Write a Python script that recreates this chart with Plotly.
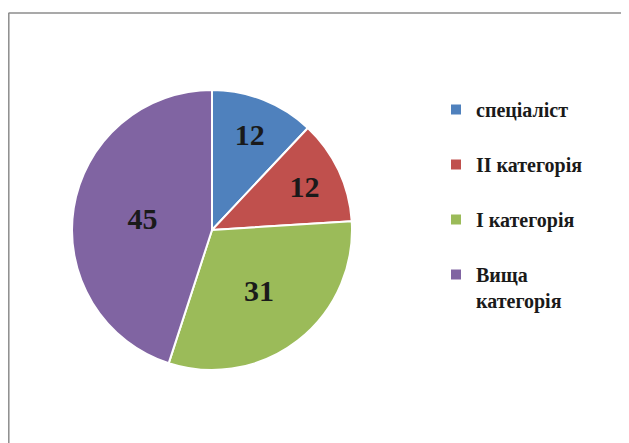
import plotly.graph_objects as go

categories = ["спеціаліст", "ІІ категорія", "І категорія", "Вища категорія"]
values = [12, 12, 31, 45]
colors = ["#4F81BD", "#C0504D", "#9BBB59", "#8064A2"]

# legend labels: wrap long label, pad short ones to keep spacing like the original
legend_labels = []
for c in categories:
    if c.startswith("Вища"):
        legend_labels.append("<b>" + c.replace(" ", "<br>", 1) + "</b>")
    else:
        legend_labels.append("<b>" + c + "</b><br>\u00a0")

# page has an 8px body margin, so the figure is drawn 8px in from the window edge
OFF = 8
W, H = 629 - OFF, 443 - OFF
cx, cy, r = 212 - OFF, 230 - OFF, 140

SERIF = "Liberation Serif"

fig = go.Figure(go.Pie(
    labels=legend_labels,
    values=values,
    sort=False,
    direction="clockwise",
    rotation=0,
    marker=dict(colors=colors, line=dict(color="white", width=2)),
    textinfo="value",
    textposition="inside",
    insidetextorientation="horizontal",
    insidetextfont=dict(family=SERIF, size=30, color="#1a1a1a", weight="bold"),
    domain=dict(x=[(cx - r) / W, (cx + r) / W], y=[(H - cy - r) / H, (H - cy + r) / H]),
    hoverinfo="label+value",
))

fig.update_layout(
    width=W, height=H,
    margin=dict(l=0, r=0, t=0, b=0),
    paper_bgcolor="white",
    font=dict(family=SERIF, color="#1a1a1a"),
    showlegend=True,
    legend=dict(
        x=428 / W, y=1 - 82 / H, xanchor="left", yanchor="top",
        font=dict(family=SERIF, size=20, color="#1a1a1a"),
        valign="top",
        bgcolor="rgba(0,0,0,0)",
        traceorder="normal",
    ),
    shapes=[
        dict(type="line", xref="paper", yref="paper", x0=0.5 / W, x1=1, y0=1 - 5 / H, y1=1 - 5 / H,
             line=dict(color="#8c8c8c", width=1.5)),
        dict(type="line", xref="paper", yref="paper", x0=0.8 / W, x1=0.8 / W, y0=0, y1=1 - 5 / H,
             line=dict(color="#8c8c8c", width=1.5)),
    ],
)

fig.write_html("out.html")
